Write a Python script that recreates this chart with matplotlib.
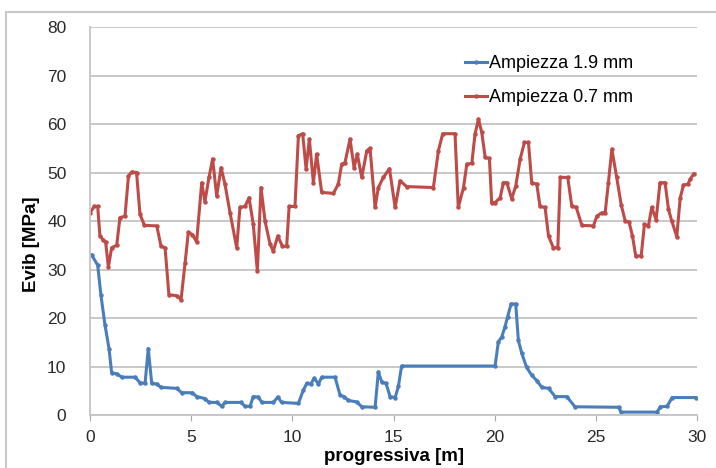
import matplotlib
matplotlib.use("Agg")
from matplotlib import pyplot as plt
from matplotlib.patches import Rectangle

plt.rcParams['font.family'] = ['Liberation Sans', 'DejaVu Sans']

# Ampiezza 0.7 mm (red)
x_red = [0.0, 0.21, 0.38, 0.49, 0.66, 0.77, 0.91, 1.07, 1.32, 1.48, 1.73, 1.9, 2.06, 2.3,
         2.47, 2.69, 3.3, 3.51, 3.71, 3.9, 4.28, 4.5, 4.7, 4.86, 5.06, 5.27, 5.52, 5.68,
         5.88, 6.06, 6.26, 6.48, 6.67, 6.92, 7.25, 7.41, 7.66, 7.86, 8.07, 8.27, 8.45,
         8.65, 8.9, 9.06, 9.28, 9.51, 9.72, 9.84, 10.13, 10.3, 10.51, 10.68, 10.84, 11.04,
         11.2, 11.45, 12.03, 12.27, 12.44, 12.6, 12.85, 13.05, 13.21, 13.43, 13.68, 13.84,
         14.09, 14.25, 14.5, 14.8, 15.08, 15.32, 15.65, 16.97, 17.22, 17.43, 18.04, 18.2,
         18.46, 18.62, 18.87, 19.03, 19.2, 19.36, 19.53, 19.74, 19.85, 20.02, 20.27, 20.43,
         20.6, 20.84, 21.04, 21.26, 21.47, 21.67, 21.83, 22.08, 22.24, 22.49, 22.66, 22.9,
         23.12, 23.24, 23.61, 23.81, 24.03, 24.31, 24.88, 25.05, 25.29, 25.46, 25.62, 25.79,
         26.03, 26.25, 26.45, 26.64, 26.81, 26.97, 27.24, 27.4, 27.6, 27.76, 27.98, 28.17,
         28.42, 28.59, 28.75, 29.0, 29.17, 29.33, 29.55, 29.66, 29.83]
y_red = [41.7, 43, 43, 37, 36, 35.7, 30.5, 34.5, 35, 40.7, 41, 49.3, 50.1, 50,
         41.4, 39.1, 39, 34.8, 34.5, 24.8, 24.6, 23.8, 31.4, 37.7, 37.2, 35.7, 47.9, 44,
         49, 52.8, 45.2, 51, 47.6, 41.7, 34.5, 42.8, 43, 44.8, 39.3, 29.7, 46.9,
         40, 35.2, 33.8, 36.9, 34.8, 34.8, 43, 43, 57.6, 58, 50.7, 56.9, 47.9,
         53.8, 45.9, 45.7, 47.6, 51.7, 52, 56.9, 51, 53.8, 49, 54.5, 55,
         42.8, 46.9, 49, 50.8, 42.8, 48.3, 47.1, 46.9, 54.5, 58, 58, 42.8,
         46.9, 51.7, 51.9, 58, 61, 58.3, 53.1, 52.9, 43.8, 43.8, 44.8, 47.9,
         47.9, 44.6, 47.2, 52.8, 56.2, 56.2, 47.9, 47.6, 43, 42.8, 36.9, 34.5,
         34.5, 49, 49, 43.1, 42.8, 39.1, 39, 41, 41.7, 41.7, 47.9, 54.8,
         49, 43.4, 40, 39.8, 36.9, 32.8, 32.8, 39.3, 39, 42.8, 40.3, 47.9,
         47.9, 42.4, 40, 36.8, 44.8, 47.4, 47.6, 48.6, 49.7]

# Ampiezza 1.9 mm (blue)
x_blue = [0.08, 0.38, 0.54, 0.74, 0.94, 1.07, 1.32, 1.57, 2.22, 2.47, 2.72, 2.88, 3.05,
          3.29, 3.51, 4.28, 4.53, 5.06, 5.27, 5.68, 5.88, 6.26, 6.51, 6.67, 7.46, 7.66,
          7.91, 8.07, 8.32, 8.49, 9.06, 9.28, 9.47, 10.3, 10.54, 10.71, 10.91, 11.08,
          11.29, 11.45, 12.11, 12.36, 12.55, 12.77, 13.18, 13.43, 14.09, 14.25, 14.42,
          14.63, 14.83, 15.08, 15.24, 15.4, 20.02, 20.18, 20.35, 20.51, 20.64, 20.81,
          21.04, 21.17, 21.34, 21.58, 21.83, 22.08, 22.33, 22.66, 22.99, 23.56, 23.97,
          26.12, 26.25, 28.02, 28.19, 28.52, 28.77, 29.93]
y_blue = [33, 30.9, 24.7, 18.6, 13.7, 8.7, 8.5, 7.8, 7.8, 6.7, 6.5, 13.7, 6.5,
          6.4, 5.7, 5.5, 4.6, 4.6, 3.8, 3.4, 2.6, 2.6, 1.8, 2.6, 2.6, 1.8,
          1.8, 3.8, 3.7, 2.6, 2.6, 3.7, 2.6, 2.4, 5.1, 6.5, 6.4, 7.6,
          6.4, 7.8, 7.8, 4.1, 3.8, 3.0, 2.7, 1.7, 1.6, 8.9, 6.8,
          6.5, 3.8, 3.6, 5.9, 10.1, 10.1, 15.1, 16.1, 18.2, 20.3, 22.9,
          22.9, 15.4, 12.7, 9.8, 8.2, 7.1, 5.7, 5.5, 3.8, 3.8, 1.7,
          1.6, 0.6, 0.6, 1.7, 1.8, 3.6, 3.6]

x_ticks = [0, 5, 10, 15, 20, 25, 30]
y_ticks = [0, 10, 20, 30, 40, 50, 60, 70, 80]

fig = plt.figure(figsize=(7.16, 4.68), dpi=100)
ax = fig.add_axes([0.1257, 0.1132, 0.8478, 0.8291])

# thin frame around the whole figure
fig.patches.append(Rectangle((0.008, -0.01), 1.0, 0.984, transform=fig.transFigure,
                             fill=False, edgecolor='#c8c8c8', lw=1.5))

ax.plot(x_blue, y_blue, color='#4a7ebb', lw=2.2, marker='o', ms=2.2,
        label='Ampiezza 1.9 mm')
ax.plot(x_red, y_red, color='#be4b48', lw=2.2, marker='o', ms=2.2,
        label='Ampiezza 0.7 mm')

ax.set_xlim(0, 30)
ax.set_ylim(0, 80)
ax.set_xticks(x_ticks)
ax.set_yticks(y_ticks)
ax.tick_params(axis='both', labelsize=12.5, colors='#2a2a2a')
ax.tick_params(axis='y', length=0, pad=17)
ax.tick_params(axis='x', length=4, color='#aaaaaa', pad=7)
ax.grid(axis='y', color='#c4c4c4', lw=1.3)
ax.set_axisbelow(True)
for s in ['top', 'right']:
    ax.spines[s].set_visible(False)
ax.spines['left'].set_color('#c4c4c4')
ax.spines['bottom'].set_color('#c4c4c4')
ax.spines['left'].set_linewidth(1.3)
ax.spines['bottom'].set_linewidth(1.3)

ax.set_ylabel('Evib [MPa]', fontsize=13.5, fontweight='bold')
ax.yaxis.set_label_coords(-0.082, 0.44)
ax.set_xlabel('progressiva [m]', fontsize=13.5, fontweight='bold', labelpad=2)

ax.legend(loc='upper left', bbox_to_anchor=(0.597, 0.96), frameon=False,
          fontsize=13, handlelength=1.2, handletextpad=0.15, labelspacing=0.95,
          borderpad=0.2)

fig.savefig('out.png', dpi=100)
